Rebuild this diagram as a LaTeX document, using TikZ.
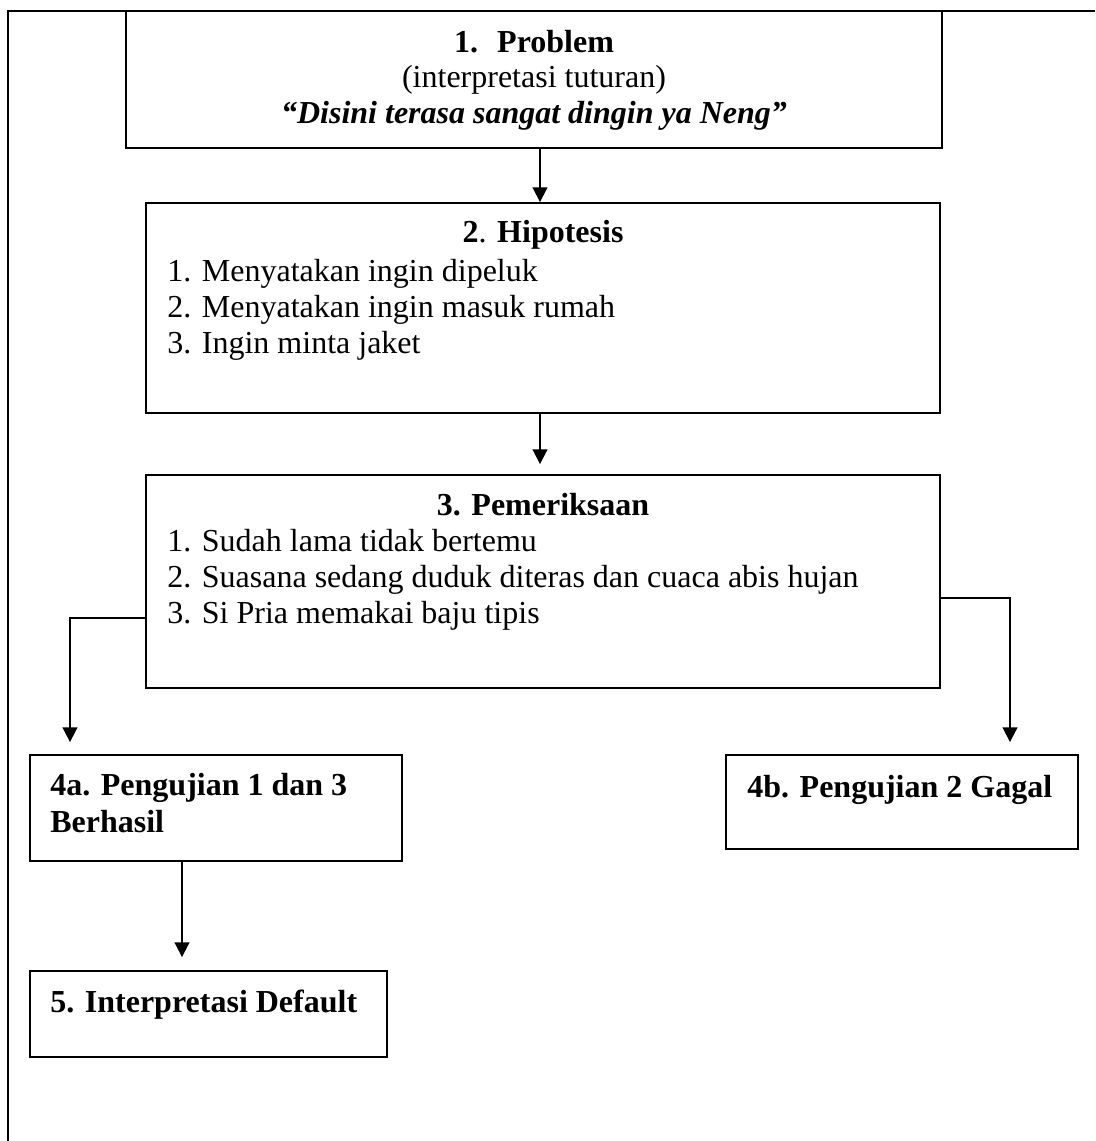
\documentclass[tikz,border=0pt]{standalone}
\usepackage{fontspec}
\setmainfont{Liberation Serif}
\usetikzlibrary{arrows.meta,fit}
\begin{document}
\begin{tikzpicture}[x=0.75pt,y=-0.75pt,
  box/.style={draw, line width=1.4pt, inner sep=0pt, fit={#1}},
  arr/.style={draw, line width=1.4pt, -{Triangle[length=11pt,width=11pt]}},
  frame/.style={draw, line width=1.8pt},
  txt/.style={inner sep=0pt, font=\fontsize{24}{27}\selectfont},
  lt/.style={txt, anchor=base west},
  ct/.style={txt, anchor=base}]
\useasboundingbox (0,0) rectangle (1095,1141);
% outer frame
\coordinate (fbl) at (8,1141);
\coordinate (ftl) at (8,11);
\coordinate (ftr) at (1095,11);
\draw[frame] (fbl) -- (ftl) -- (ftr);
% boxes
\node[box={(126,11) (942,148)}] (b1) {};
\node[box={(146,203) (940,413)}] (b2) {};
\node[box={(146,475) (940,688)}] (b3) {};
\node[box={(30,755) (402,861)}] (b4a) {};
\node[box={(726,755) (1078,849)}] (b4b) {};
\node[box={(30,971) (387,1057)}] (b5) {};
% texts box 1
\node[ct] (t1a) at (534,53) {\textbf{1.\hspace{0.6em}Problem}};
\node[ct] (t1b) at (534,88) {(interpretasi tuturan)};
\node[ct] (t1c) at (534,124) {\textbf{\textit{“Disini terasa sangat dingin ya Neng”}}};
% box 2
\node[ct] (t2h) at (543,243) {\textbf{2}.\textbf{ Hipotesis}};
\node[lt] (t21) at (167,281) {1. Menyatakan ingin dipeluk};
\node[lt] (t22) at (167,317) {2. Menyatakan ingin masuk rumah};
\node[lt] (t23) at (167,353) {3. Ingin minta jaket};
% box 3
\node[ct] (t3h) at (543,515) {\textbf{3. Pemeriksaan}};
\node[lt] (t31) at (167,551) {1. Sudah lama tidak bertemu};
\node[lt] (t32) at (167,587) {2. Suasana sedang duduk diteras dan cuaca abis hujan};
\node[lt] (t33) at (167,623) {3. Si Pria memakai baju tipis};
% box 4a, 4b, 5
\node[lt] (t4a1) at (50,795) {\textbf{4a. Pengujian 1 dan 3}};
\node[lt] (t4a2) at (50,832) {\textbf{Berhasil}};
\node[lt] (t4b) at (747,797) {\textbf{4b. Pengujian 2 Gagal}};
\node[lt] (t5) at (50,1012) {\textbf{5. Interpretasi Default}};
% connectors
\coordinate (ax1) at (540,0);
\coordinate (l3) at (146,618);
\coordinate (l4) at (70,0);
\coordinate (r3) at (940,598);
\coordinate (r4) at (1010,0);
\coordinate (ax5) at (182,0);
\draw[arr] (b1.south -| ax1) -- (b2.north -| ax1);
\draw[arr, shorten >=7.5pt] (b2.south -| ax1) -- (b3.north -| ax1);
\draw[arr, shorten >=9pt] (l3) -| (b4a.north -| l4);
\draw[arr, shorten >=9pt] (r3) -| (b4b.north -| r4);
\draw[arr, shorten >=9.75pt] (b4a.south -| ax5) -- (b5.north -| ax5);
\end{tikzpicture}
\end{document}
